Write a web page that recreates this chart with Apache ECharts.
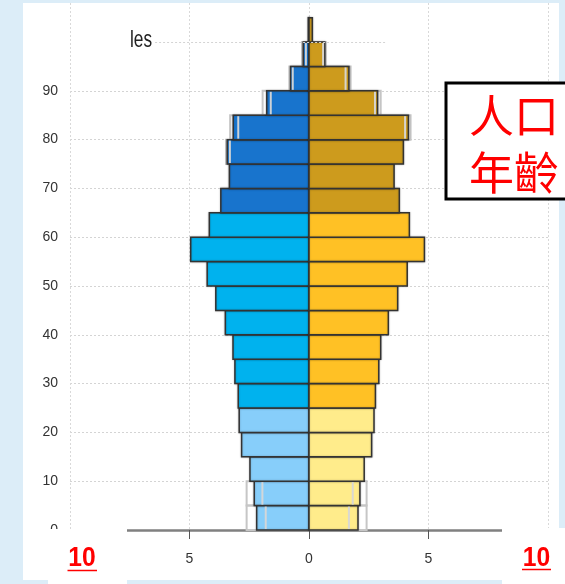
<!DOCTYPE html>
<html>
<head>
<meta charset="utf-8">
<script src="https://cdn.jsdelivr.net/npm/echarts@6/dist/echarts.min.js"></script>
<style>html,body{margin:0;padding:0;background:#dcedf8;}#c{width:565px;height:584px;}</style>
</head>
<body>
<div id="c"></div>
<script>
// ---- data ----
const ageStarts = [0,5,10,15,20,25,30,35,40,45,50,55,60,65,70,75,80,85,90,95,100];
const male   = [2.19,2.29,2.47,2.82,2.92,2.96,3.10,3.18,3.50,3.90,4.26,4.95,4.17,3.69,3.33,3.42,3.17,1.77,0.77,0.24,0.03];
const female = [2.05,2.13,2.31,2.62,2.72,2.78,2.92,3.00,3.32,3.71,4.11,4.83,4.20,3.78,3.56,3.95,4.16,2.87,1.67,0.66,0.14];
// comparison outlines (only where visible)
const maleOuter   = [2.61,2.61,null,null,null,null,null,null,null,null,null,null,null,null,null,3.47,3.30,1.94,0.82,0.29,null];
const femaleOuter = [2.41,2.41,null,null,null,null,null,null,null,null,null,null,null,null,null,null,4.25,3.00,1.74,0.70,null];
const maleInner   = [1.81,1.95,null,null,null,null,null,null,null,null,null,null,null,null,null,3.31,2.96,1.60,0.68,0.13,null];
const femaleInner = [1.67,1.83,null,null,null,null,null,null,null,null,null,null,null,null,null,null,4.02,2.76,1.53,0.59,null];
const xTicks = [-10,-5,0,5,10];
const yTickLabels = [0,10,20,30,40,50,60,70,80,90];
const yGrid = [10,20,30,40,50,60,70,80,90];
const titleText = 'les';
const boxLines = ['人口','年齡'];
const sideLabel = '10';
const BIN = 5;

const maleColors   = ['#87CEFA','#00B2EE','#1874CD'];
const femaleColors = ['#FFEC8B','#FFC125','#CD9B1D'];
function group(a){ return a < 25 ? 0 : (a < 65 ? 1 : 2); }

function toData(vals, sign){
  const out = [];
  vals.forEach((v,i)=>{ if (v !== null) out.push([ageStarts[i], sign*v]); });
  return out;
}

function barRender(colors){
  return function(params, api){
    const a = api.value(0), v = api.value(1);
    const p0 = api.coord([0, a]), p1 = api.coord([v, a + BIN]);
    return {type:'rect',
      shape:{x:Math.min(p0[0],p1[0]), y:p1[1], width:Math.abs(p1[0]-p0[0]), height:p0[1]-p1[1]},
      style:{fill: colors[group(a)], stroke:'#333', lineWidth:1.5,
             shadowBlur:2, shadowColor:'rgba(0,0,0,0.25)'}};
  };
}
function outerRender(params, api){
  const a = api.value(0), v = api.value(1);
  const p0 = api.coord([0, a]), p1 = api.coord([v, a + BIN]);
  return {type:'rect',
    shape:{x:Math.min(p0[0],p1[0]), y:p1[1], width:Math.abs(p1[0]-p0[0]), height:p0[1]-p1[1]},
    style:{fill:'none', stroke:'#c6c6c6', lineWidth:2}};
}
function innerRender(params, api){
  const a = api.value(0), v = api.value(1);
  const p0 = api.coord([v, a]), p1 = api.coord([v, a + BIN]);
  return {type:'line', shape:{x1:p0[0], y1:p0[1]-1, x2:p1[0], y2:p1[1]+1},
    style:{stroke:'rgba(215,215,215,0.95)', lineWidth:2}};
}

const sans = "'Liberation Sans',Arial,sans-serif";
const chart = echarts.init(document.getElementById('c'));
chart.setOption({
  backgroundColor:'#dcedf8',
  animation:false,
  grid:[
    {left:70, right:17, top:3, bottom:54},
    {left:70, right:17, top:71.3, bottom:54}
  ],
  xAxis:[
    {gridIndex:0, type:'value', min:-10, max:10, interval:5,
     axisLine:{show:true, onZero:false, lineStyle:{color:'#808080', width:2.6}},
     axisTick:{show:true, length:9, lineStyle:{color:'#555', width:1}},
     axisLabel:{margin:22, color:'#333', fontSize:14, fontFamily:sans,
       formatter:(v)=>String(Math.abs(v))},
     splitLine:{show:true, lineStyle:{color:'#d9d9d9', type:[2,2], width:1}}},
    {gridIndex:1, type:'value', min:-10, max:10, show:false}
  ],
  yAxis:[
    {gridIndex:0, type:'value', min:0, max:108,
     axisLine:{show:false}, axisLabel:{show:false},
     axisTick:{show:false, customValues:yGrid},
     splitLine:{show:true, lineStyle:{color:'#d4d4d4', type:[2,2], width:1}}},
    {gridIndex:1, type:'value', min:0, max:94,
     axisLine:{show:true, lineStyle:{color:'#555', width:1.5}},
     axisTick:{show:true, inside:true, length:4, customValues:yTickLabels, lineStyle:{color:'#555'}},
     axisLabel:{customValues:yTickLabels, margin:12, color:'#333', fontSize:14, fontFamily:sans},
     splitLine:{show:false}}
  ],
  graphic:[
    {type:'rect', z:-100, shape:{x:23, y:3, width:536, height:577}, style:{fill:'#fff'}},
    {type:'text', z:50, x:130, y:40, scaleX:0.72, style:{text:titleText, fontSize:24, fontFamily:sans, fill:'#222', verticalAlign:'middle'}},
    {type:'rect', z:50, shape:{x:446, y:83, width:130, height:116}, style:{fill:'#fff', stroke:'#000', lineWidth:3}},
    {type:'text', z:51, x:469, y:116, style:{text:boxLines[0], fontSize:45, fontFamily:"'Noto Sans CJK TC',sans-serif", fill:'#ff0000', verticalAlign:'middle'}},
    {type:'text', z:51, x:469, y:173, style:{text:boxLines[1], fontSize:45, fontFamily:"'Noto Sans CJK TC',sans-serif", fill:'#ff0000', verticalAlign:'middle'}},
    {type:'rect', z:50, shape:{x:48, y:529, width:79, height:55}, style:{fill:'#fff'}},
    {type:'text', z:51, x:82, y:558, scaleX:0.88, style:{text:sideLabel, fontSize:28, fontWeight:'bold', fontFamily:sans, fill:'#ff0000', align:'center', verticalAlign:'middle'}},
    {type:'line', z:51, shape:{x1:67.5, y1:570.5, x2:97, y2:570.5}, style:{stroke:'#ff0000', lineWidth:1.5}},
    {type:'rect', z:50, shape:{x:502, y:528, width:63, height:56}, style:{fill:'#fff'}},
    {type:'text', z:51, x:536.5, y:558, scaleX:0.88, style:{text:sideLabel, fontSize:28, fontWeight:'bold', fontFamily:sans, fill:'#ff0000', align:'center', verticalAlign:'middle'}},
    {type:'line', z:51, shape:{x1:522, y1:569.5, x2:551, y2:569.5}, style:{stroke:'#ff0000', lineWidth:1.5}}
  ],
  series:[
    {type:'custom', name:'maleOuter', xAxisIndex:0, yAxisIndex:0, z:1, renderItem:outerRender, data:toData(maleOuter,-1), silent:true},
    {type:'custom', name:'femaleOuter', xAxisIndex:0, yAxisIndex:0, z:1, renderItem:outerRender, data:toData(femaleOuter,1), silent:true},
    {type:'custom', name:'male', xAxisIndex:0, yAxisIndex:0, z:2, renderItem:barRender(maleColors), data:toData(male,-1),
     markLine:{silent:true, symbol:'none', label:{show:false}, lineStyle:{color:'#d4d4d4', type:[2,2], width:1},
       data:[[{coord:[-6.44,100]},{coord:[3.26,100]}]]}},
    {type:'custom', name:'female', xAxisIndex:0, yAxisIndex:0, z:2, renderItem:barRender(femaleColors), data:toData(female,1)},
    {type:'custom', name:'maleInner', xAxisIndex:0, yAxisIndex:0, z:3, renderItem:innerRender, data:toData(maleInner,-1), silent:true},
    {type:'custom', name:'femaleInner', xAxisIndex:0, yAxisIndex:0, z:3, renderItem:innerRender, data:toData(femaleInner,1), silent:true}
  ]
});
</script>
</body>
</html>
